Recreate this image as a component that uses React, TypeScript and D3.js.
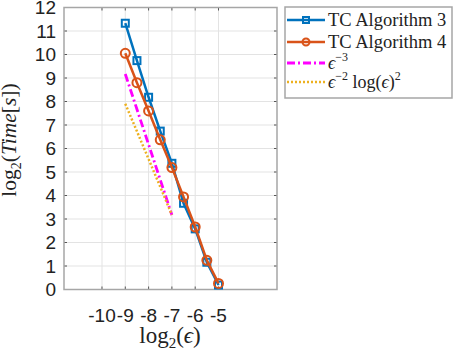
import React from "react";
import * as d3 from "d3";

// log2(eps) values for each run
const epsLog = [-9, -8.5, -8, -7.5, -7, -6.5, -6, -5.5, -5];
// log2(time) for the two algorithms
const algo3 = [11.33, 9.74, 8.18, 6.74, 5.37, 3.67, 2.58, 1.16, 0.19];
const algo4 = [10.05, 8.8, 7.6, 6.37, 5.19, 3.94, 2.66, 1.24, 0.26];
// reference slopes
const refX = [-9, -8.5, -8, -7.5, -7];
const refCubic = [9.17, 7.67, 6.17, 4.67, 3.17];
const refLog = [7.9, 6.73, 5.55, 4.37, 3.17];

const xTicks = [-10, -9, -8, -7, -6, -5];
const yTicks = [0, 1, 2, 3, 4, 5, 6, 7, 8, 9, 10, 11, 12];

const blue = "#0072BD";
const orange = "#D95319";
const magenta = "#FF00FF";
const yellow = "#EDB120";

export default function App() {
  const left = 64;
  const right = 277;
  const top = 7.5;
  const bottom = 289.5;

  const x = d3.scaleLinear().domain([-11.63, -2.49]).range([left, right]);
  const y = d3.scaleLinear().domain([0, 12]).range([bottom, top]);

  const line = d3
    .line<[number, number]>()
    .x((d) => x(d[0]))
    .y((d) => y(d[1]));

  const pts3 = epsLog.map((e, i) => [e, algo3[i]] as [number, number]);
  const pts4 = epsLog.map((e, i) => [e, algo4[i]] as [number, number]);
  const ptsCubic = refX.map((e, i) => [e, refCubic[i]] as [number, number]);
  const ptsLog = refX.map((e, i) => [e, refLog[i]] as [number, number]);

  const sans = "'Liberation Sans', Arial, sans-serif";
  const serif = "'Liberation Serif', 'Times New Roman', serif";

  const legendRows = [20, 42, 63, 82];
  const lx0 = 287;
  const lx1 = 325;
  const tx = 328;

  return (
    <svg width={457} height={350} style={{ position: "absolute", left: 0, top: 0 }}>
      <rect x={0} y={0} width={457} height={350} fill="#fff" />
      {/* grid */}
      {xTicks.map((t) => (
        <line key={"gx" + t} x1={x(t)} x2={x(t)} y1={top} y2={bottom} stroke="#e3e3e3" strokeWidth={1} />
      ))}
      {yTicks.map((t) => (
        <line key={"gy" + t} x1={left} x2={right} y1={y(t)} y2={y(t)} stroke="#e3e3e3" strokeWidth={1} />
      ))}
      {/* ticks */}
      {xTicks.map((t) => (
        <g key={"tx" + t}>
          <line x1={x(t)} x2={x(t)} y1={bottom} y2={bottom - 3} stroke="#555" />
          <line x1={x(t)} x2={x(t)} y1={top} y2={top + 3} stroke="#555" />
          <text x={x(t)} y={322} textAnchor="middle" fontFamily={sans} fontSize={19} fill="#222">
            {t}
          </text>
        </g>
      ))}
      {yTicks.map((t) => (
        <g key={"ty" + t}>
          <line x1={left} x2={left + 3} y1={y(t)} y2={y(t)} stroke="#555" />
          <line x1={right} x2={right - 3} y1={y(t)} y2={y(t)} stroke="#555" />
          <text x={56} y={y(t) + 6.5} textAnchor="end" fontFamily={sans} fontSize={19} fill="#222">
            {t}
          </text>
        </g>
      ))}
      {/* box */}
      <rect x={left} y={top} width={right - left} height={bottom - top} fill="none" stroke="#a6a6a6" strokeWidth={1.5} />

      {/* series */}
      <path d={line(pts3) || ""} fill="none" stroke={blue} strokeWidth={2.5} />
      {pts3.map((p, i) => (
        <rect key={"s" + i} x={x(p[0]) - 3.5} y={y(p[1]) - 3.5} width={7} height={7} fill="none" stroke={blue} strokeWidth={2} />
      ))}
      <path d={line(pts4) || ""} fill="none" stroke={orange} strokeWidth={2.5} />
      {pts4.map((p, i) => (
        <circle key={"c" + i} cx={x(p[0])} cy={y(p[1])} r={4.5} fill="none" stroke={orange} strokeWidth={2} />
      ))}
      <path d={line(ptsCubic) || ""} fill="none" stroke={magenta} strokeWidth={2.8} strokeDasharray="8,3,2,3" />
      <path d={line(ptsLog) || ""} fill="none" stroke={yellow} strokeWidth={2.5} strokeDasharray="2,2" />

      {/* axis labels */}
      <text x={170} y={343} textAnchor="middle" fontFamily={serif} fontSize={23} fill="#222">
        log<tspan fontSize={15} dy={5}>2</tspan>
        <tspan dy={-5}>(</tspan>
        <tspan fontStyle="italic">ϵ</tspan>)
      </text>
      <text transform="translate(16,140) rotate(-90)" textAnchor="middle" fontFamily={serif} fontSize={21.5} fill="#222">
        log<tspan fontSize={14} dy={5}>2</tspan>
        <tspan dy={-5}>(</tspan>
        <tspan fontStyle="italic">Time</tspan>[<tspan fontStyle="italic">s</tspan>])
      </text>

      {/* legend */}
      <rect x={285} y={7} width={167} height={91} fill="#fff" stroke="#a6a6a6" strokeWidth={1.5} />
      <line x1={lx0} x2={lx1} y1={legendRows[0]} y2={legendRows[0]} stroke={blue} strokeWidth={2.5} />
      <rect x={(lx0 + lx1) / 2 - 3} y={legendRows[0] - 3} width={6} height={6} fill="none" stroke={blue} strokeWidth={2} />
      <line x1={lx0} x2={lx1} y1={legendRows[1]} y2={legendRows[1]} stroke={orange} strokeWidth={2.5} />
      <circle cx={(lx0 + lx1) / 2} cy={legendRows[1]} r={3.5} fill="none" stroke={orange} strokeWidth={2} />
      <line x1={lx0} x2={lx1} y1={legendRows[2]} y2={legendRows[2]} stroke={magenta} strokeWidth={2.8} strokeDasharray="8,3,2,3" />
      <line x1={lx0} x2={lx1} y1={legendRows[3]} y2={legendRows[3]} stroke={yellow} strokeWidth={2.5} strokeDasharray="2,2" />
      <text x={tx} y={legendRows[0] + 6} fontFamily={serif} fontSize={18.5} fill="#222">TC Algorithm 3</text>
      <text x={tx} y={legendRows[1] + 6} fontFamily={serif} fontSize={18.5} fill="#222">TC Algorithm 4</text>
      <text x={tx} y={legendRows[2] + 6} fontFamily={serif} fontSize={18} fill="#222">
        <tspan fontStyle="italic">ϵ</tspan>
        <tspan fontSize={12} dy={-8}>−3</tspan>
      </text>
      <text x={tx} y={legendRows[3] + 6} fontFamily={serif} fontSize={18} fill="#222">
        <tspan fontStyle="italic">ϵ</tspan>
        <tspan fontSize={12} dy={-8}>−2</tspan>
        <tspan dy={8}> log(</tspan>
        <tspan fontStyle="italic">ϵ</tspan>)
        <tspan fontSize={12} dy={-8}>2</tspan>
      </text>
    </svg>
  );
}
